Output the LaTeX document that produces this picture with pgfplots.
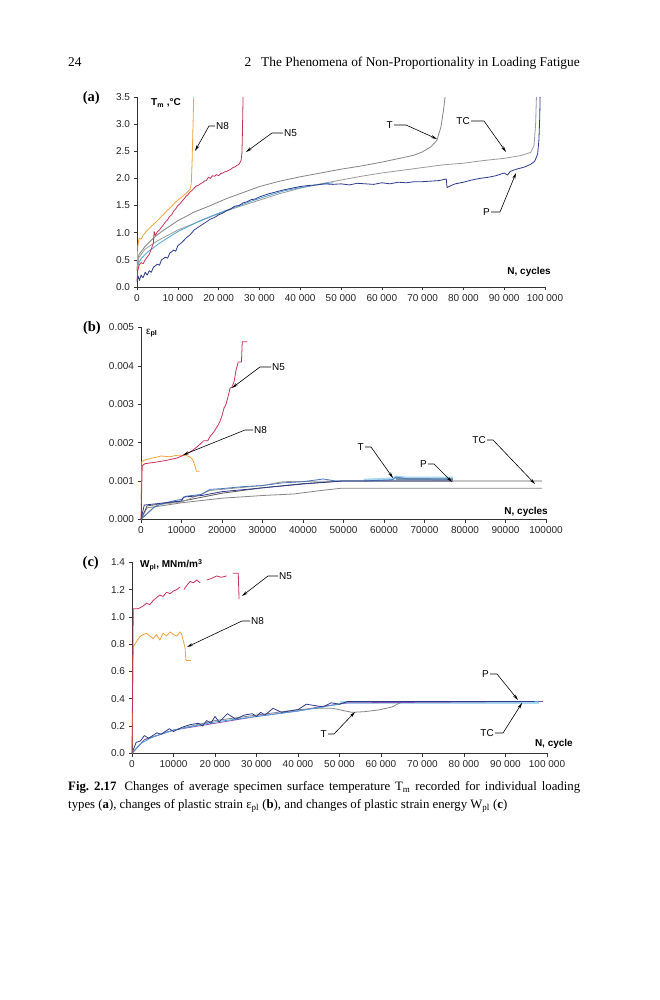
\documentclass[border=0pt]{standalone}
\usepackage{fontspec}
\setmainfont{Liberation Serif}
\newfontfamily\arial{Liberation Sans}
\usepackage{pgfplots}
\pgfplotsset{compat=1.18}
\usetikzlibrary{arrows.meta}
\definecolor{cN8}{HTML}{F0A23C}
\definecolor{cN5}{HTML}{C8325A}
\definecolor{cT}{HTML}{858585}
\definecolor{cTC}{HTML}{9A9A9A}
\definecolor{cP}{HTML}{2E3A8C}
\definecolor{cLB}{HTML}{4FA3D6}
\definecolor{cMB}{HTML}{4A78C0}
\definecolor{cPur}{HTML}{8A4FB0}
\definecolor{cBand}{HTML}{A8D8F0}
\definecolor{cSteel}{HTML}{7890A8}
\pgfplotsset{pan/.style={scale only axis, anchor=south west,
  axis x line*=bottom, axis y line*=left,
  axis line style={black!80, line width=0.6pt, -},
  tick style={black!80, line width=0.6pt}, tick align=outside, major tick length=3.5pt,
  xmin=0, xmax=100000, ymin=0, clip=false,
  scaled x ticks=false, scaled y ticks=false,
  tick label style={font=\arial\fontsize{10}{11}\selectfont, text=black!85},
  xtick={0,10000,...,100000},
  every axis plot/.append style={line width=0.8pt, line join=round, mark=none},
  unbounded coords=jump}}
\tikzset{ld/.style={black, line width=0.6pt, -{Stealth[length=6pt,width=3pt]}},
  lab/.style={font=\arial\fontsize{10}{11}\selectfont, inner sep=1pt},
  blab/.style={font=\arial\bfseries\fontsize{10}{11}\selectfont, inner sep=0pt}}
\begin{document}
\begin{tikzpicture}
\fill[white] (0,0) rectangle (659pt,1000pt);
\path[use as bounding box] (0,0) rectangle (659pt,1000pt);

% ---------------- (a)
\begin{axis}[pan, at={(137pt,713pt)}, width=408pt, height=190pt, ymax=3.5,
  ytick={0,0.5,...,3.5}, yticklabels={0.0,0.5,1.0,1.5,2.0,2.5,3.0,3.5},
  xticklabels={0,10 000,20 000,30 000,40 000,50 000,60 000,70 000,80 000,90 000,100 000}]
\addplot[cT] coordinates {(0,0.45)(500,0.6)(2000,0.75)(4000,0.9)(6000,1.02)(10000,1.22)(14000,1.38)(18000,1.5)(22000,1.63)(26000,1.74)(30000,1.85)(35000,1.95)(40000,2.03)(45000,2.1)(50000,2.17)(55000,2.23)(60000,2.3)(65000,2.38)(68000,2.43)(70000,2.49)(72000,2.58)(73500,2.7)(74500,2.95)(75200,3.3)(75500,3.5)};
\addplot[cTC] coordinates {(0,0.3)(500,0.55)(2000,0.7)(5000,0.85)(10000,1.05)(15000,1.2)(20000,1.35)(25000,1.48)(30000,1.6)(35000,1.72)(40000,1.82)(45000,1.9)(50000,1.97)(55000,2.04)(60000,2.1)(65000,2.15)(70000,2.2)(75000,2.25)(80000,2.28)(85000,2.33)(90000,2.37)(94000,2.42)(96500,2.48)(97300,2.6)(97700,3.0)(97900,3.5)};
\addplot[cLB] coordinates {(0,0.35)(500,0.45)(1000,0.52)(2000,0.6)(3000,0.67)(4000,0.72)(5000,0.78)(7000,0.88)(10000,1.02)(13000,1.13)(16000,1.24)(20000,1.36)(24000,1.47)(28000,1.58)(32000,1.68)(36000,1.77)(40000,1.83)(44000,1.88)(48000,1.92)};
\addplot[cP] coordinates {(0,0.1)(300,0.2)(600,0.12)(1000,0.22)(1500,0.17)(2000,0.27)(2500,0.22)(3000,0.3)(3500,0.27)(4000,0.36)(5000,0.42)(5500,0.4)(6000,0.5)(7000,0.55)(7500,0.53)(8000,0.62)(9000,0.68)(9500,0.66)(10000,0.76)(11000,0.82)(12000,0.9)(13000,0.96)(14000,1.05)(15000,1.1)(16000,1.15)(17000,1.2)(18000,1.25)(19000,1.28)(20000,1.33)(21000,1.36)(22000,1.41)(23000,1.44)(24000,1.49)(25000,1.5)(26000,1.55)(27000,1.57)(28000,1.61)(29000,1.62)(30000,1.66)(32000,1.71)(34000,1.75)(36000,1.79)(38000,1.82)(40000,1.85)(42000,1.87)(44000,1.88)(46000,1.9)(48000,1.89)(50000,1.9)(52000,1.88)(54000,1.91)(56000,1.9)(58000,1.89)(60000,1.92)(62000,1.9)(64000,1.93)(66000,1.92)(68000,1.94)(70000,1.94)(72000,1.95)(74000,1.96)(75800,1.99)(76000,1.83)(77000,1.87)(78000,1.9)(80000,1.93)(82000,1.97)(84000,2.0)(86000,2.02)(88000,2.05)(90000,2.1)(90800,2.06)(91500,2.13)(93000,2.17)(95000,2.21)(96500,2.26)(97500,2.32)(98200,2.45)(98500,2.7)(98700,3.1)(98800,3.5)};
\addplot[cN8] coordinates {(0,0.3)(200,0.75)(500,0.9)(1000,0.88)(1500,0.95)(2000,1.0)(3000,1.08)(4000,1.15)(5000,1.22)(6000,1.3)(7000,1.38)(8000,1.45)(9000,1.53)(10000,1.6)(11000,1.66)(12000,1.72)(13000,1.8)(13300,1.9)(13500,2.3)(13700,2.9)(13900,3.5)};
\addplot[cN5] coordinates {(0,0.12)(200,0.3)(500,0.4)(1000,0.45)(1500,0.43)(2000,0.5)(2500,0.55)(3000,0.6)(3500,0.7)(4000,0.8)(4200,1.02)(4500,0.95)(5000,1.02)(5500,1.05)(6000,1.1)(6500,1.15)(7000,1.2)(7500,1.24)(8000,1.3)(8500,1.33)(9000,1.4)(9500,1.44)(10000,1.5)(10500,1.53)(11000,1.58)(11500,1.62)(12000,1.67)(12500,1.7)(13000,1.75)(13500,1.78)(14000,1.82)(14500,1.86)(15000,1.87)(15500,1.9)(16000,1.92)(16500,1.95)(17000,1.96)(17500,2.02)(18000,2.0)(18500,2.05)(19000,2.04)(19500,2.07)(20000,2.05)(20500,2.09)(21000,2.1)(21500,2.12)(22000,2.13)(22500,2.15)(23000,2.17)(23500,2.2)(24000,2.21)(24500,2.24)(25000,2.26)(25500,2.33)(25700,2.45)(25800,2.7)(25900,3.1)(26000,3.5)};
\end{axis}

% ---------------- (b)
\begin{axis}[pan, at={(141pt,480.7pt)}, width=405pt, height=191.8pt, ymax=0.005,
  ytick={0,0.001,0.002,0.003,0.004,0.005}, yticklabels={0.000,0.001,0.002,0.003,0.004,0.005},
  xticklabels={0,10000,20000,30000,40000,50000,60000,70000,80000,90000,100000}]
\addplot[cT] coordinates {(0,0)(1500,0.0003)(5000,0.00035)(10000,0.00043)(20000,0.00055)(30000,0.00062)(37700,0.00066)(44400,0.00075)(49500,0.00081)(99000,0.00081)};
\addplot[cBand, line width=3pt] coordinates {(55000,0.00102)(62000,0.00105)(63000,0.0011)(66000,0.00107)(77000,0.00107)};
\addplot[cSteel, line width=2pt] coordinates {(63000,0.00105)(77000,0.00104)};
\addplot[black!65] coordinates {(0,0)(1500,0.00035)(5000,0.0004)(10000,0.00047)(20000,0.00068)(30000,0.00082)(40000,0.00093)(50000,0.001)(99000,0.001)};
\addplot[cTC] coordinates {(0,0)(4000,0.00038)(10000,0.00045)(17000,0.00075)(20000,0.00078)(30000,0.00088)(35000,0.00098)(50000,0.001)(77000,0.001)};
\addplot[cMB] coordinates {(0,0)(3000,0.0003)(5000,0.0004)(8000,0.00048)(10000,0.00052)(11000,0.0006)(15000,0.00065)(17000,0.00078)(20000,0.0008)(25000,0.00085)(30000,0.00088)(35000,0.00095)(40000,0.00098)(45000,0.00105)(48000,0.001)(55000,0.001)(62000,0.00103)(63000,0.0011)(66000,0.00105)(77000,0.00105)};
\addplot[cP] coordinates {(0,0)(800,0.00037)(5000,0.00042)(10000,0.00048)(10500,0.00058)(15000,0.00062)(20000,0.00072)(30000,0.00082)(40000,0.00092)(45000,0.00096)(50000,0.001)(60000,0.001)(77000,0.001)};
\addplot[cN8] coordinates {(0,0.0005)(200,0.0015)(1000,0.00155)(3000,0.0016)(5000,0.00165)(7000,0.00163)(9000,0.00167)(11000,0.00167)(12000,0.00163)(12800,0.00155)(13300,0.0014)(13700,0.00125)(14500,0.00125)};
\addplot[cN5] coordinates {(0,0)(300,0.0014)(1000,0.00145)(3000,0.00148)(6000,0.00153)(9000,0.0016)(10500,0.00167)(11500,0.00172)(12500,0.00178)(13500,0.00186)(14500,0.00195)(15500,0.00205)(16500,0.00205)(17000,0.00215)(18000,0.00228)(19000,0.00245)(19500,0.00255)(20000,0.0027)(20500,0.0029)(21000,0.003)(21500,0.0032)(22000,0.00342)(22500,0.00345)(23000,0.0036)(23500,0.0039)(24000,0.0041)(24800,0.0041)(25000,0.00463)(26200,0.00463)};
\end{axis}

% ---------------- (c)
\begin{axis}[pan, at={(132pt,246.7pt)}, width=415pt, height=191pt, ymax=1.4,
  ytick={0,0.2,...,1.4}, yticklabels={0.0,0.2,0.4,0.6,0.8,1.0,1.2,1.4},
  xticklabels={0,10000,20 000,30 000,40 000,50 000,60 000,70 000,80 000,90 000,100 000}]
\addplot[cBand, line width=3pt] coordinates {(50000,0.375)(98000,0.375)};
\addplot[cT] coordinates {(0,0)(3000,0.1)(10000,0.17)(20000,0.24)(30000,0.28)(40000,0.32)(45000,0.33)(48300,0.33)(53000,0.3)(56000,0.305)(59500,0.318)(62700,0.34)(64300,0.366)(65500,0.38)};
\addplot[cPur] coordinates {(0,0)(3000,0.1)(10000,0.17)(20000,0.22)(30000,0.27)(40000,0.31)(45000,0.34)(52000,0.37)(99000,0.38)};
\addplot[cLB] coordinates {(0,0)(2000,0.07)(5000,0.12)(10000,0.17)(15000,0.2)(20000,0.23)(30000,0.27)(40000,0.31)(50000,0.36)(52000,0.38)(98000,0.38)};
\addplot[cP] coordinates {(0,0)(1000,0.08)(2000,0.09)(3000,0.13)(4000,0.11)(5000,0.13)(6000,0.15)(7000,0.14)(8000,0.16)(9000,0.18)(10000,0.16)(12000,0.19)(14000,0.21)(16000,0.22)(17000,0.2)(18000,0.24)(19000,0.22)(20000,0.27)(21000,0.23)(23000,0.29)(25000,0.25)(27000,0.28)(29000,0.29)(30000,0.27)(31000,0.3)(32000,0.28)(34000,0.33)(36000,0.3)(38000,0.31)(40000,0.32)(42000,0.36)(44000,0.35)(46000,0.34)(48000,0.37)(50000,0.36)(52000,0.38)(97000,0.38)};
\addplot[cN8] coordinates {(0,0)(300,0.78)(1100,0.82)(1900,0.855)(2700,0.87)(3500,0.88)(4300,0.86)(5100,0.84)(5900,0.87)(6700,0.83)(7500,0.88)(8300,0.86)(9200,0.89)(10000,0.87)(10800,0.86)(11600,0.89)(12000,0.87)(12800,0.77)(13000,0.68)(14200,0.68)};
\addplot[cN5] coordinates {(0,0)(300,1.06)(1500,1.06)(2700,1.08)(3500,1.1)(4300,1.09)(5100,1.12)(5900,1.14)(6700,1.16)(7500,1.15)(8300,1.18)(9200,1.17)(10000,1.19)(10800,1.2)(11600,1.22)(12000,nan)(12500,1.2)(13200,1.23)(14000,1.26)(14800,1.25)(15600,1.27)(16400,1.25)(17000,nan)(18000,1.27)(19000,1.28)(20400,1.3)(21500,1.29)(22800,1.3)(23500,nan)(24300,1.32)(25600,1.32)(25800,1.13)};
\end{axis}

\begin{scope}[x=1pt,y=-1pt,shift={(0pt,1000pt)}]
% header
\node[anchor=base west, inner sep=0, font=\fontsize{13.4}{15}\selectfont] at (68,67) {24};
\node[anchor=base east, inner sep=0, font=\fontsize{13.4}{15}\selectfont] at (580,67) {2\hspace{10pt}The Phenomena of Non-Proportionality in Loading Fatigue};
% panel labels
\node[anchor=east, inner sep=0, font=\bfseries\fontsize{14.5}{15}\selectfont] at (100,98) {(a)};
\node[anchor=east, inner sep=0, font=\bfseries\fontsize{14.5}{15}\selectfont] at (101,328) {(b)};
\node[anchor=east, inner sep=0, font=\bfseries\fontsize{14.5}{15}\selectfont] at (99,563) {(c)};
% axis titles
\node[blab, anchor=west] at (151,103) {T\textsubscript{m} ,°C};
\node[blab, anchor=east] at (551,272) {N, cycles};
\node[lab, anchor=west] at (145,333) {ε\textsubscript{\bfseries pl}};
\node[blab, anchor=east] at (548,512) {N, cycles};
\node[blab, anchor=west] at (140,565) {W\textsubscript{pl}, MNm/m\textsuperscript{3}};
\node[blab, anchor=east] at (573,744) {N, cycle};
% annotations (a)
\node[lab, anchor=west] at (215,126) {N8};
\draw[ld] (215,126) -- (209,126) -- (195,151);
\node[lab, anchor=west] at (283,133) {N5};
\draw[ld] (283,133) -- (272,133) -- (246,152);
\node[lab, anchor=east] at (394,125) {T};
\draw[ld] (394,125) -- (406,125) -- (437,139);
\node[lab, anchor=east] at (471,121) {TC};
\draw[ld] (471,121) -- (484,121) -- (506,152);
\node[lab, anchor=east] at (491,212) {P};
\draw[ld] (491,212) -- (500,212) -- (516,173);
% annotations (b)
\node[lab, anchor=west] at (271,367) {N5};
\draw[ld] (271,367) -- (260,367) -- (232,388);
\node[lab, anchor=west] at (253,430) {N8};
\draw[ld] (253,430) -- (245,430) -- (183,455);
\node[lab, anchor=east] at (365,447) {T};
\draw[ld] (365,447) -- (371,447) -- (393,478);
\node[lab, anchor=east] at (428,464) {P};
\draw[ld] (428,464) -- (434,464) -- (452,482);
\node[lab, anchor=east] at (487,440) {TC};
\draw[ld] (487,440) -- (493,440) -- (535,484);
% annotations (c)
\node[lab, anchor=west] at (278,576) {N5};
\draw[ld] (278,576) -- (268,576) -- (242,596);
\node[lab, anchor=west] at (250,621) {N8};
\draw[ld] (250,621) -- (242,621) -- (187,647);
\node[lab, anchor=east] at (490,674) {P};
\draw[ld] (490,674) -- (497,674) -- (518,700);
\node[lab, anchor=east] at (328,734) {T};
\draw[ld] (328,734) -- (334,734) -- (355,712);
\node[lab, anchor=east] at (495,733) {TC};
\draw[ld] (495,733) -- (503,733) -- (522,703);
% caption
\node[anchor=north west, inner sep=0, text width=512pt, align=justify, font=\fontsize{12.8}{18}\selectfont] at (68,781) {\textbf{Fig.~2.17}\hspace{8pt}Changes of average specimen surface temperature T\textsubscript{m} recorded for individual loading\linebreak types (\textbf{a}), changes of plastic strain ε\textsubscript{pl} (\textbf{b}), and changes of plastic strain energy W\textsubscript{pl} (\textbf{c})};
\end{scope}
\end{tikzpicture}
\end{document}
